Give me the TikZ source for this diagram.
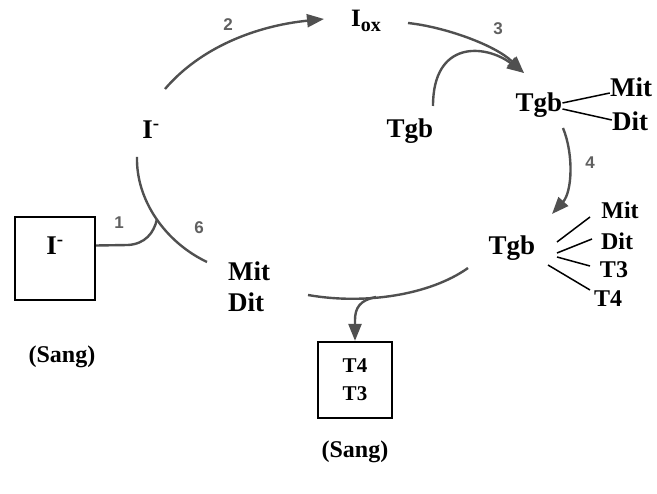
\documentclass[tikz,border=0pt]{standalone}
\usepackage{fontspec}
\setmainfont{Liberation Serif}
\setsansfont{Liberation Sans}
\usetikzlibrary{arrows.meta}
\definecolor{lg}{HTML}{505050}
\definecolor{numc}{HTML}{606060}
\begin{document}
\begin{tikzpicture}[x=1pt,y=-1pt,
  lbl/.style={font=\fontsize{27}{30}\selectfont\bfseries, inner sep=0pt},
  sm/.style={font=\fontsize{24}{26}\selectfont\bfseries, inner sep=0pt},
  num/.style={font=\sffamily\bfseries\fontsize{17}{18}\selectfont, text=numc, inner sep=0pt},
  cyc/.style={draw=lg, line width=2.4pt},
  arr/.style={cyc, -{Triangle[length=17pt,width=13pt]}},
  tie/.style={draw=black, line width=1.5pt},
  boxn/.style={draw=black, line width=2.2pt, inner sep=0pt}]
\useasboundingbox (0,0) rectangle (657,494);

% nodes
\node[lbl] (iminus) at (151,130) {I\textsuperscript{-}};
\node[font=\fontsize{25}{27}\selectfont\bfseries, inner sep=0pt] (iox) at (366,21) {I\raisebox{-5pt}{\fontsize{20}{22}\selectfont ox}};
\node[lbl] (tgbm) at (410,131) {Tgb};
\node[lbl] (tgb1) at (539,105) {Tgb};
\node[lbl] (mit1) at (631,87) {Mit};
\node[lbl] (dit1) at (630,121) {Dit};
\node[lbl] (tgb2) at (512,248) {Tgb};
\node[sm] (mit2) at (620,210) {Mit};
\node[sm] (dit2) at (617,241) {Dit};
\node[sm] (t3) at (614,270) {T3};
\node[sm] (t4) at (608,299) {T4};
\node[lbl, anchor=west] (mitl) at (228,271) {Mit};
\node[lbl, anchor=west] (ditl) at (228,302) {Dit};
\node[boxn, minimum width=80pt, minimum height=83pt] (boxl) at (55,258.5) {};
\node[lbl] (il) at (55,246) {I\textsuperscript{-}};
\node[boxn, minimum width=74pt, minimum height=76pt, align=center,
  font=\fontsize{21}{28}\selectfont\bfseries] (boxb) at (355,380) {T4\\T3};
\node[sm] (sangl) at (62,357) {(Sang)};
\node[sm] (sangb) at (355,452) {(Sang)};

% step numbers
\node[num] (n1) at (119,223) {1};
\node[num] (n2) at (228,25) {2};
\node[num] (n3) at (498,29) {3};
\node[num] (n4) at (590,163) {4};
\node[num] (n6) at (199,228) {6};

% curve end points
\coordinate (a2s) at (165,89);
\coordinate (a2e) at (324,19);
\coordinate (a3s) at (408,23);
\coordinate (a3e) at (524,73);
\coordinate (amid) at (433,106);
\coordinate (a4s) at (563,128);
\coordinate (a4e) at (552,214);
\coordinate (cls) at (137,157);
\coordinate (cle) at (207,262);
\coordinate (join) at (157,219);
\coordinate (cbs) at (308,295);
\coordinate (cbe) at (468,268);
\coordinate (cbj) at (376,297);

% cycle arcs
\draw[arr] (a2s) .. controls (200,48) and (255,26) .. (a2e);
\draw[arr] (a3s) .. controls (445,27) and (495,45) .. (a3e);
\draw[arr] (amid) .. controls (433,40) and (485,44) .. (a3e);
\draw[arr] (a4s) .. controls (574,155) and (572,192) .. (a4e);
\draw[cyc] (cls) .. controls (136,200) and (165,242) .. (cle);
\draw[cyc] ([yshift=13pt]boxl.east) -- (128,245) .. controls (145,244) and (154,233) .. (join);
\draw[cyc] (cbs) .. controls (365,305) and (430,295) .. (cbe);
\draw[arr] (cbj) .. controls (360,300) and (355,308) .. (355,320) -- (boxb.north);

% ties
\draw[tie] ([yshift=2pt]tgb1.east) -- ([yshift=-6pt]mit1.west);
\draw[tie] ([yshift=-4pt]tgb1.east) -- ([yshift=1pt]dit1.west);
\draw[tie] (557,242) -- (590,217);
\draw[tie] (557,253) -- (592,239);
\draw[tie] (557,257) -- (590,266);
\draw[tie] (548,265) -- (590,290);
\end{tikzpicture}
\end{document}
